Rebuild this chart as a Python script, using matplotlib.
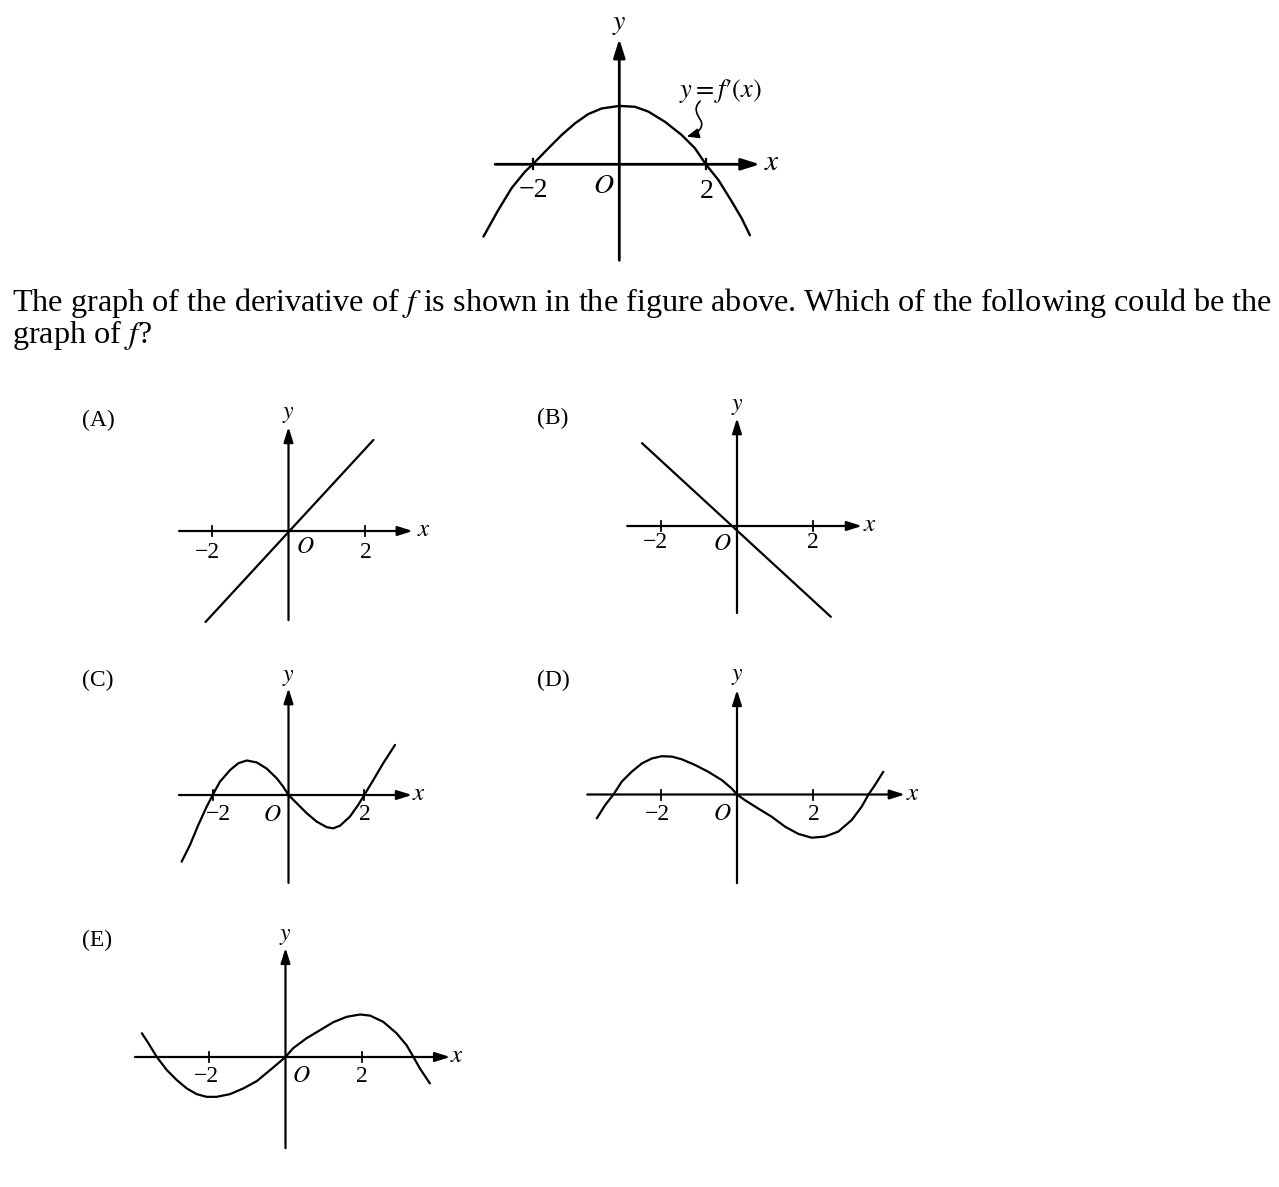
import matplotlib.pyplot as plt
from matplotlib.path import Path
from matplotlib.patches import FancyArrowPatch

plt.rcParams['mathtext.fontset'] = 'stix'
SERIF = ['Liberation Serif', 'DejaVu Serif']

W, H = 1279, 1187

# curve data (x, y in axis units, tick spacing 2)
fp_x = [-3.14, -2.80, -2.49, -2.18, -2.0, -1.64, -1.33, -1.02, -0.72, -0.41, 0.0,
        0.36, 0.67, 1.06, 1.44, 1.75, 2.0, 2.29, 2.60, 2.83, 3.02]
fp_y = [-1.67, -1.06, -0.55, -0.17, 0.0, 0.37, 0.68, 0.95, 1.16, 1.29, 1.35,
        1.33, 1.22, 0.98, 0.68, 0.37, 0.0, -0.36, -0.86, -1.25, -1.64]

a_x = [-2.17, 2.22]
a_y = [-2.38, 2.38]

b_x = [-2.50, 2.47]
b_y = [2.18, -2.39]

c_x = [-2.82, -2.60, -2.38, -2.16, -2.0, -1.81, -1.54, -1.32, -1.10, -0.84, -0.58,
       -0.31, -0.14, 0.0, 0.22, 0.48, 0.74, 1.01, 1.18, 1.36, 1.62, 1.84, 2.0,
       2.24, 2.50, 2.81]
c_y = [-1.76, -1.32, -0.79, -0.31, 0.0, 0.35, 0.66, 0.84, 0.91, 0.86, 0.70,
       0.44, 0.22, 0.0, -0.22, -0.48, -0.70, -0.85, -0.88, -0.81, -0.57, -0.26, 0.0,
       0.40, 0.84, 1.32]

d_x = [-3.70, -3.48, -3.26, -3.04, -2.78, -2.51, -2.25, -1.99, -1.72, -1.46, -1.11,
       -0.76, -0.40, -0.14, 0.0, 0.21, 0.56, 0.92, 1.27, 1.62, 1.97, 2.32, 2.67,
       3.03, 3.29, 3.47, 3.64, 3.86]
d_y = [-0.63, -0.28, 0.0, 0.34, 0.60, 0.82, 0.95, 1.01, 1.00, 0.93, 0.78,
       0.60, 0.38, 0.16, 0.0, -0.15, -0.37, -0.59, -0.85, -1.04, -1.14, -1.11, -0.98,
       -0.67, -0.32, 0.0, 0.25, 0.60]

e_x = [-3.75, -3.58, -3.36, -3.10, -2.84, -2.58, -2.32, -2.06, -1.80, -1.45, -1.10,
       -0.75, -0.40, -0.14, 0.0, 0.20, 0.55, 0.90, 1.25, 1.60, 1.95, 2.21, 2.55,
       2.90, 3.16, 3.34, 3.51, 3.77]
e_y = [0.62, 0.36, 0.0, -0.34, -0.60, -0.82, -0.97, -1.04, -1.04, -0.97, -0.82,
       -0.63, -0.34, -0.12, 0.0, 0.23, 0.49, 0.70, 0.91, 1.05, 1.11, 1.08, 0.92,
       0.62, 0.31, 0.0, -0.30, -0.69]

tick_values = [-2, 2]
tick_labels = ['\u22122', '2']
choice_labels = ['(A)', '(B)', '(C)', '(D)', '(E)']

line1 = 'The graph of the derivative of $f$ is shown in the figure above. Which of the following could be the'
line2 = 'graph of $f$?'

fig = plt.figure(figsize=(W / 100, H / 100), dpi=100)


def add_panel(ox, oy, s, xr, yr):
    x0, x1 = xr[0] - 1, xr[1] + 1
    y0, y1 = yr[0] - 1, yr[1] + 1
    left = ox + x0 * s
    bottom = oy - y0 * s
    ax = fig.add_axes([left / W, 1 - bottom / H, (x1 - x0) * s / W, (y1 - y0) * s / H])
    ax.set_xlim(x0, x1)
    ax.set_ylim(y0, y1)
    ax.axis('off')
    return ax


def draw_axes(ax, s, xr, yr, lw, fs, o_off, m2_off, p2_off, x_off, y_off):
    head = dict(arrowstyle='-|>,head_length=0.7,head_width=0.22', lw=lw, color='black',
                shrinkA=0, shrinkB=0, mutation_scale=12 * lw / 1.5)
    ax.annotate('', xy=(xr[1], 0), xytext=(xr[0], 0), arrowprops=head)
    ax.annotate('', xy=(0, yr[1]), xytext=(0, yr[0]), arrowprops=head)
    h = 5 / s
    for t in tick_values:
        ax.plot([t, t], [-h, h], color='black', lw=lw * 0.8)
    for t, lab, off in zip(tick_values, tick_labels, [m2_off, p2_off]):
        ax.annotate(lab, xy=(t, 0), xytext=(off[0], -off[1]), textcoords='offset pixels',
                    ha='center', va='center', fontsize=fs, family=SERIF)
    ax.annotate('$O$', xy=(0, 0), xytext=(o_off[0], -o_off[1]), textcoords='offset pixels',
                ha='center', va='center', fontsize=fs)
    ax.annotate('$x$', xy=(xr[1], 0), xytext=(x_off, 2), textcoords='offset pixels',
                ha='center', va='center', fontsize=fs + 1)
    ax.annotate('$y$', xy=(0, yr[1]), xytext=(0, y_off), textcoords='offset pixels',
                ha='center', va='center', fontsize=fs)


# top figure: y = f'(x)
s = 43.25
xr, yr = (-2.87, 3.25), (-2.22, 2.90)
ax = add_panel(619.3, 164.3, s, xr, yr)
draw_axes(ax, s, xr, yr, 2.0, 20, (-16, 21), (1, 26), (1, 27), 12, 16)
ax.plot(fp_x, fp_y, color='black', lw=1.7, solid_joinstyle='round', solid_capstyle='round')
ax.text(2.33, 1.69, "$y = f\u2032(x)$", ha='center', va='center', fontsize=19)
verts = [(1.87, 1.46), (1.70, 1.30), (1.80, 1.15), (1.88, 1.02),
         (1.96, 0.88), (1.85, 0.72), (1.56, 0.64)]
codes = [Path.MOVETO] + [Path.CURVE4] * 6
ax.add_patch(FancyArrowPatch(path=Path(verts, codes), arrowstyle='-|>,head_length=0.6,head_width=0.25',
                             mutation_scale=12, lw=1.2, color='black'))

# the five choices
panels = [
    # ox, oy, s, x range, y range, O offset, -2 offset, 2 offset, x offset, y offset, label pos
    (288.5, 531, 38.25, (-2.86, 3.25), (-2.33, 2.72), (17, 15), (-5, 21), (1, 21), 11, 14, (82, 420)),
    (737, 526, 38.0, (-2.89, 3.29), (-2.29, 2.84), (-15, 17), (-6, 17), (0, 17), 8, 13, (537, 418)),
    (288.5, 795, 37.9, (-2.89, 3.26), (-2.32, 2.82), (-16, 19), (6, 19), (1, 19), 7, 12, (82, 680)),
    (737, 794.5, 37.9, (-3.95, 4.43), (-2.34, 2.76), (-15, 19), (-4, 20), (1, 20), 8, 15, (537, 680)),
    (285.5, 1057, 38.3, (-3.93, 4.30), (-2.38, 2.85), (16, 18), (-2, 19), (0, 19), 7, 13, (82, 940)),
]
curves = [(a_x, a_y), (b_x, b_y), (c_x, c_y), (d_x, d_y), (e_x, e_y)]

for (ox, oy, s, xr, yr, o_off, m2, p2, xo, yo, lp), (cx, cy), lab in zip(panels, curves, choice_labels):
    ax = add_panel(ox, oy, s, xr, yr)
    draw_axes(ax, s, xr, yr, 1.6, 17, o_off, m2, p2, xo, yo)
    ax.plot(cx, cy, color='black', lw=1.6, solid_joinstyle='round', solid_capstyle='round')
    fig.text(lp[0] / W, 1 - lp[1] / H, lab, ha='left', va='center', fontsize=17, family=SERIF)

# question text, fitted to the width of the page line
t1 = fig.text(12 / W, 1 - 311 / H, line1, ha='left', va='baseline', fontsize=20, family=SERIF)
fig.canvas.draw()
w = t1.get_window_extent().width
fs = 20 * 1261 / w
t1.set_fontsize(fs)
fig.text(12 / W, 1 - 343 / H, line2, ha='left', va='baseline', fontsize=fs, family=SERIF)

fig.savefig('out.png', dpi=100, facecolor='white')
